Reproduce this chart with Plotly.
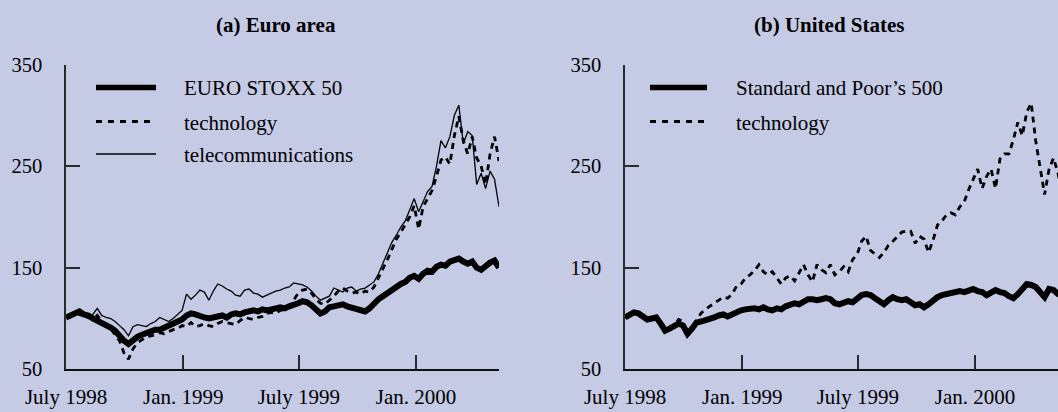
import plotly.graph_objects as go
import pandas as pd

# ---------------- data (weekly readings, index ~ 100 = July 1998) ----------------
ea_dates = pd.date_range("1998-07-01", periods=98, freq="7D")
us_dates = pd.date_range("1998-07-01", periods=99, freq="7D")

euro_stoxx_50 = [101, 103, 106, 107, 104, 103, 100, 98, 96, 94,
                 91, 88, 82, 78, 75, 79, 82, 84, 86, 87,
                 89, 89, 91, 93, 95, 96, 99, 103, 105, 104,
                 102, 101, 100, 101, 102, 103, 101, 104, 105, 104,
                 106, 107, 108, 107, 109, 108, 108.5, 110, 111, 110,
                 112, 113, 115, 117, 116, 113, 108, 105, 107, 111,
                 112, 113, 114, 112, 111, 109, 108, 107, 110, 115,
                 119, 122, 125, 129, 131, 134, 136, 140, 142, 139,
                 144, 147, 146, 151, 153, 152, 156, 158, 159, 156,
                 154, 156, 150, 148, 152, 155, 157, 150]

ea_technology = [101, 102, 105, 104, 102, 101, 99, 103, 97, 94,
                 90, 84, 78, 66, 60, 70, 76, 79, 82, 83,
                 84, 86, 85, 87, 89, 90, 93, 92, 96, 92,
                 93, 95, 93, 92, 95, 97, 96, 95, 94, 98,
                 101, 100, 99, 101, 102, 105, 106, 105, 108, 109,
                 112, 118, 125, 128, 129, 125, 119, 115, 114, 118,
                 122, 127, 130, 127, 125, 126, 124, 127, 126, 131,
                 140, 148, 158, 168, 178, 185, 192, 200, 211, 188,
                 210, 218, 226, 240, 256, 259, 252, 280, 299, 275,
                 262, 279, 258, 250, 232, 262, 279, 255]

ea_telecom = [101, 103, 106, 104, 103, 101, 104, 110, 103, 101,
              100, 97, 93, 89, 83, 92, 94, 93, 92, 95,
              97, 101, 99, 97, 100, 104, 108, 124, 119, 123,
              128, 126, 118, 127, 134, 132, 129, 127, 123, 122,
              128, 129, 125, 124, 121, 123, 125, 127, 128, 130,
              131, 135, 134, 133, 131, 127, 122, 118, 120, 122,
              130, 128, 126, 130, 131, 127, 129, 130, 133, 136,
              144, 155, 164, 175, 182, 190, 196, 208, 218, 205,
              215, 225, 230, 250, 275, 268, 279, 300, 310, 272,
              284, 280, 232, 243, 228, 245, 237, 210]

sp500 = [101, 103, 106, 105, 101, 99, 100, 101, 95, 88,
         90, 92, 95, 93, 85, 90, 96, 97, 98, 100,
         101, 103, 104, 102, 104, 107, 108, 109, 110, 110,
         109, 111, 109, 108, 110, 109, 112, 114, 115, 114,
         117, 119, 119, 118, 119, 120, 119, 115, 114, 116,
         117, 116, 119, 123, 124, 123, 120, 117, 114, 118,
         121, 119, 118, 119, 116, 113, 114, 111, 114, 118,
         121, 123, 124, 125, 125, 127, 126, 128, 129, 127,
         126, 123, 125, 128, 126, 125, 122, 120, 124, 130,
         134, 133, 131, 126, 121, 129, 128, 124, 123]

us_technology = [101, 104, 106, 104, 100, 99, 101, 102, 96, 89,
                 90, 93, 99, 97, 84, 91, 98, 105, 109, 112,
                 115, 118, 121, 120, 124, 132, 134, 140, 143, 147,
                 153, 146, 143, 146, 140, 134, 140, 142, 137, 145,
                 153, 143, 136, 153, 148, 145, 153, 143, 146, 151,
                 146, 158, 163, 176, 181, 167, 163, 160, 165, 172,
                 176, 181, 185, 186, 186, 174, 181, 178, 165, 177,
                 192, 196, 202, 204, 202, 210, 215, 227, 238, 247,
                 228, 240, 247, 228, 257, 262, 262, 276, 293, 280,
                 303, 312, 275, 250, 222, 247, 258, 243, 220]

tick_dates = ["1998-07-01", "1999-01-01", "1999-07-01", "2000-01-01"]
tick_text = ["July 1998", "Jan. 1999", "July 1999", "Jan. 2000"]
y_ticks = [50, 150, 250, 350]
panel_titles = ["(a) Euro area", "(b) United States"]
ea_names = ["EURO STOXX 50", "technology", "telecommunications"]
us_names = ["Standard and Poor\u2019s 500", "technology"]

# ---------------- style ----------------
W, H = 1058, 412
BG = "#C5CAE5"
INK = "#000000"
AXC = "#2a2a2a"
FONT = "Liberation Serif"
THICK, DASHW, THIN = 6, 2.8, 1.3
DASH = "6px,5px"

def px(x):
    return x / W

def py(y):
    return 1 - y / H

fig = go.Figure()

fig.add_trace(go.Scatter(x=ea_dates, y=ea_telecom, mode="lines", name=ea_names[2],
                         line=dict(color=INK, width=THIN), xaxis="x", yaxis="y"))
fig.add_trace(go.Scatter(x=ea_dates, y=ea_technology, mode="lines", name=ea_names[1],
                         line=dict(color=INK, width=DASHW, dash=DASH), xaxis="x", yaxis="y"))
fig.add_trace(go.Scatter(x=ea_dates, y=euro_stoxx_50, mode="lines", name=ea_names[0],
                         line=dict(color=INK, width=THICK), xaxis="x", yaxis="y"))
fig.add_trace(go.Scatter(x=us_dates, y=us_technology, mode="lines", name=us_names[1],
                         line=dict(color=INK, width=DASHW, dash=DASH), xaxis="x2", yaxis="y2"))
fig.add_trace(go.Scatter(x=us_dates, y=sp500, mode="lines", name=us_names[0],
                         line=dict(color=INK, width=THICK), xaxis="x2", yaxis="y2"))

x_range = [str(ea_dates[0].date()), str(ea_dates[-1].date())]
ydom = [py(369.3), py(64.5)]

def xaxis_cfg(dom, anchor):
    return dict(domain=dom, anchor=anchor, type="date", range=x_range,
                tickmode="array", tickvals=tick_dates, ticktext=tick_text,
                ticks="inside", ticklen=14, tickwidth=1.5, tickcolor=AXC,
                showline=True, linecolor="#111111", linewidth=2,
                showgrid=False, zeroline=False, ticklabelstandoff=7,
                automargin=False,
                tickfont=dict(family=FONT, size=21, color=INK))

def yaxis_cfg(anchor):
    return dict(domain=ydom, anchor=anchor, range=[50, 350],
                tickmode="array", tickvals=y_ticks,
                ticks="inside", ticklen=14, tickwidth=1.5, tickcolor=AXC,
                showline=True, linecolor=AXC, linewidth=1.5,
                showgrid=False, zeroline=False, ticklabelstandoff=18,
                automargin=False,
                tickfont=dict(family=FONT, size=20.5, color=INK))

shapes = []
annotations = []

def legend_item(x0, x1, xt, y, name, width, dash):
    shapes.append(dict(type="line", xref="paper", yref="paper",
                       x0=px(x0), x1=px(x1), y0=py(y), y1=py(y),
                       line=dict(color=INK, width=width, dash=dash)))
    annotations.append(dict(xref="paper", yref="paper", x=px(xt), y=py(y + 1),
                            xanchor="left", yanchor="middle", showarrow=False,
                            text=name, font=dict(family=FONT, size=21, color=INK)))

legend_item(96, 156, 182, 87.5, ea_names[0], 5.5, "solid")
legend_item(96, 156, 182, 121.5, ea_names[1], 3, "6px,6px")
legend_item(96, 156, 182, 154, ea_names[2], 1.3, "solid")
legend_item(650, 707, 734, 87.5, us_names[0], 5.5, "solid")
legend_item(650, 707, 734, 121.5, us_names[1], 3, "6px,6px")

annotations.append(dict(xref="paper", yref="paper", x=px(275.5), y=py(25),
                        xanchor="center", yanchor="middle", showarrow=False,
                        text="<b>" + panel_titles[0] + "</b>",
                        font=dict(family=FONT, size=21, color=INK)))
annotations.append(dict(xref="paper", yref="paper", x=px(829.5), y=py(25),
                        xanchor="center", yanchor="middle", showarrow=False,
                        text="<b>" + panel_titles[1] + "</b>",
                        font=dict(family=FONT, size=21, color=INK)))

fig.update_layout(
    width=W, height=H,
    autosize=False,
    margin=dict(l=0, r=0, t=0, b=0, pad=0, autoexpand=False),
    paper_bgcolor=BG, plot_bgcolor=BG,
    showlegend=False,
    hovermode=False,
    xaxis=xaxis_cfg([px(66), px(499)], "y"),
    yaxis=yaxis_cfg("x"),
    xaxis2=xaxis_cfg([px(625), 1.0], "y2"),
    yaxis2=yaxis_cfg("x2"),
    shapes=shapes,
    annotations=annotations,
    font=dict(family=FONT, color=INK),
)

fig.write_html("out.html", config={"displayModeBar": False})
